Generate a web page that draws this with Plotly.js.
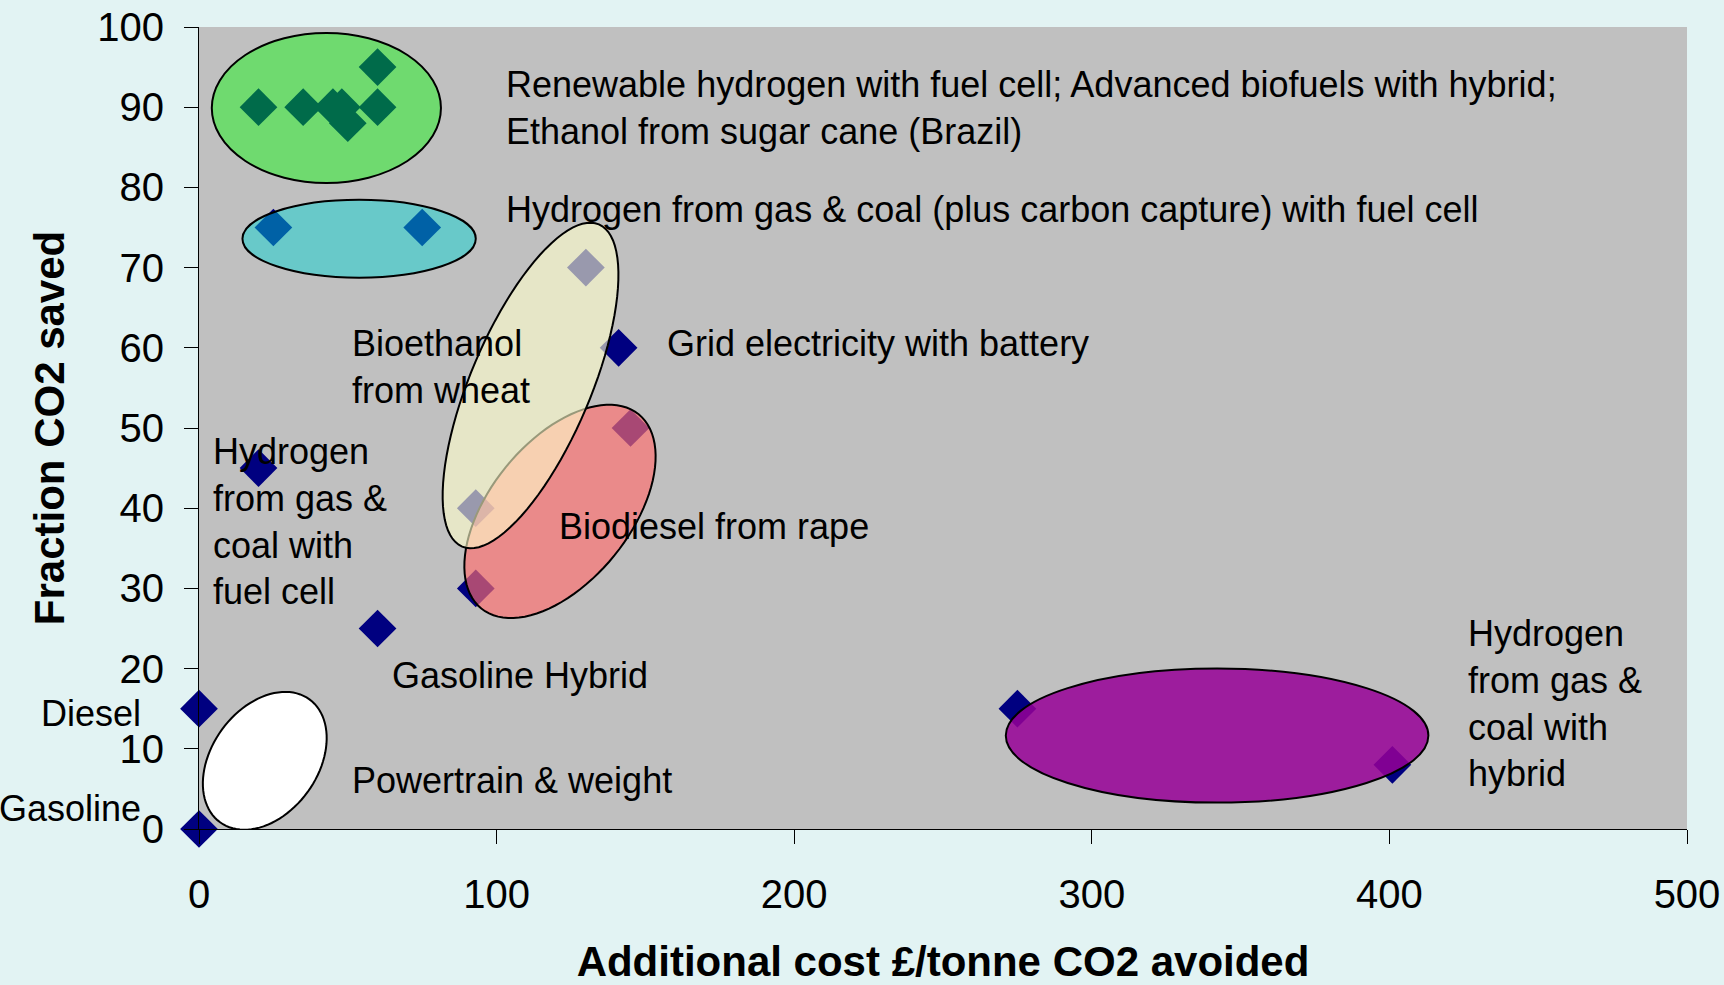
<!DOCTYPE html>
<html>
<head>
<meta charset="utf-8">
<script src="https://cdn.plot.ly/plotly-3.0.1.min.js"></script>
<style>html,body{margin:0;padding:0;background:#E2F3F3;}#chart{width:1724px;height:985px;}</style>
</head>
<body>
<div id="chart"></div>
<script>
// Data points: additional cost (£/tonne CO2 avoided) vs fraction CO2 saved
const costX = [0, 0, 20, 60, 20, 35, 45, 48, 50, 60, 60, 25, 75, 130, 93, 141, 145, 93, 275, 401];
const savedY = [0, 15, 45, 25, 90, 90, 90, 90, 88, 90, 95, 75, 75, 70, 40, 60, 50, 30, 15, 8];

const xTicks = [0, 100, 200, 300, 400, 500];
const yTicks = [0, 10, 20, 30, 40, 50, 60, 70, 80, 90, 100];

const labelTexts = [
  "Renewable hydrogen with fuel cell; Advanced biofuels with hybrid;<br>Ethanol from sugar cane (Brazil)",
  "Hydrogen from gas & coal (plus carbon capture) with fuel cell",
  "Bioethanol<br>from wheat",
  "Grid electricity with battery",
  "Hydrogen<br>from gas &<br>coal with<br>fuel cell",
  "Biodiesel from rape",
  "Gasoline Hybrid",
  "Diesel",
  "Gasoline",
  "Powertrain & weight",
  "Hydrogen<br>from gas &<br>coal with<br>hybrid"
];
const labelX = [102.4, 102.4, 50.6, 156.6, 4.0, 120.3, 64.2, -18.8, -18.8, 50.7, 425.7];
const labelY = [89.9, 77.3, 57.6, 60.5, 38.3, 37.7, 19.2, 14.4, 2.6, 6.1, 15.7];

// Group ellipses (drawn as highlighted regions)
const ellipseNames = ["green", "cyan", "purple", "white", "red", "yellow"];
const ellipseCx = [42.8, 53.8, 342.1, 22.1, 121.3, 111.4];
const ellipseCy = [89.9, 73.6, 11.65, 8.5, 39.6, 55.3];

const PLOT_L = 199, PLOT_T = 27, PLOT_R = 37, PLOT_B = 156;
const W = 1724, H = 985;
const kx = (W - PLOT_L - PLOT_R) / 500;   // px per x unit
const ky = (H - PLOT_T - PLOT_B) / 100;   // px per y unit

// ellipse geometry in pixels: semi-major, semi-minor, tilt from vertical (deg)
const ellipseGeom = {
  green:  {rx: 38.5 * kx, ry: 9.35 * ky, tilt: null, fill: "rgba(0,255,0,0.42)"},
  cyan:   {rx: 39.2 * kx, ry: 4.85 * ky, tilt: null, fill: "rgba(0,212,212,0.46)"},
  purple: {rx: 71.0 * kx, ry: 8.36 * ky, tilt: null, fill: "rgba(150,0,150,0.85)"},
  white:  {a: 76, b: 53, tilt: 36, fill: "rgba(255,255,255,1)"},
  red:    {a: 125, b: 70, tilt: 39, fill: "rgba(255,110,110,0.66)"},
  yellow: {a: 175, b: 60, tilt: 23, fill: "rgba(255,255,204,0.6)"}
};

function rotatedPath(cx, cy, a, b, tiltDeg) {
  const th = tiltDeg * Math.PI / 180;
  const s = Math.sin(th), c = Math.cos(th);
  let d = "";
  const n = 96;
  for (let i = 0; i <= n; i++) {
    const t = 2 * Math.PI * i / n;
    const u = a * Math.cos(t), v = b * Math.sin(t);
    const dx = u * s + v * c;
    const dy = u * c - v * s;
    const x = cx + dx / kx, y = cy + dy / ky;
    d += (i === 0 ? "M" : "L") + x.toFixed(3) + "," + y.toFixed(3);
  }
  return d + "Z";
}

const shapes = ellipseNames.map((name, i) => {
  const g = ellipseGeom[name];
  const base = {xref: "x", yref: "y", layer: "above", fillcolor: g.fill,
                line: {color: "#000000", width: 2}};
  if (g.tilt === null) {
    return Object.assign(base, {type: "circle",
      x0: ellipseCx[i] - g.rx / kx, x1: ellipseCx[i] + g.rx / kx,
      y0: ellipseCy[i] - g.ry / ky, y1: ellipseCy[i] + g.ry / ky});
  }
  return Object.assign(base, {type: "path", path: rotatedPath(ellipseCx[i], ellipseCy[i], g.a, g.b, g.tilt)});
});

const font = "Liberation Sans, Arial, sans-serif";

// labels are positioned in paper coordinates derived from data-unit positions
const annotations = labelTexts.map((t, i) => {
  const outside = (t === "Diesel" || t === "Gasoline");
  return {
    x: labelX[i] / 500, y: labelY[i] / 100, xref: "paper", yref: "paper",
    text: t, showarrow: false,
    xanchor: outside ? "right" : "left",
    yanchor: "middle", align: "left",
    font: {family: font, size: 36, color: "#000000"}
  };
});

const trace = {
  x: costX, y: savedY, type: "scatter", mode: "markers",
  marker: {symbol: "diamond", size: 29, color: "#000080", line: {width: 0}},
  cliponaxis: false, hoverinfo: "skip"
};

const layout = {
  width: W, height: H,
  margin: {l: PLOT_L, t: PLOT_T, r: PLOT_R, b: PLOT_B, pad: 0},
  paper_bgcolor: "#E2F3F3",
  plot_bgcolor: "#C0C0C0",
  showlegend: false,
  font: {family: font, color: "#000000"},
  xaxis: {
    range: [0, 500], tickvals: xTicks, ticktext: xTicks.map(String),
    showgrid: false, zeroline: false,
    showline: true, linecolor: "#000000", linewidth: 1,
    ticks: "outside", ticklen: 14, tickcolor: "#000000", tickwidth: 1,
    tickfont: {family: font, size: 40, color: "#000000"},
    ticklabelstandoff: 16,
    title: {text: "<b>Additional cost £/tonne CO2 avoided</b>", font: {family: font, size: 42, color: "#000000"}, standoff: 37}
  },
  yaxis: {
    range: [0, 100], tickvals: yTicks, ticktext: yTicks.map(String),
    showgrid: false, zeroline: false,
    showline: true, linecolor: "#000000", linewidth: 1,
    ticks: "outside", ticklen: 14, tickcolor: "#000000", tickwidth: 1,
    tickfont: {family: font, size: 40, color: "#000000"},
    ticklabelstandoff: 12,
    title: {text: "<b>Fraction CO2 saved</b>", font: {family: font, size: 42, color: "#000000"}, standoff: 19}
  },
  shapes: shapes,
  annotations: annotations
};

Plotly.newPlot("chart", [trace], layout, {staticPlot: true, displayModeBar: false});
</script>
</body>
</html>
